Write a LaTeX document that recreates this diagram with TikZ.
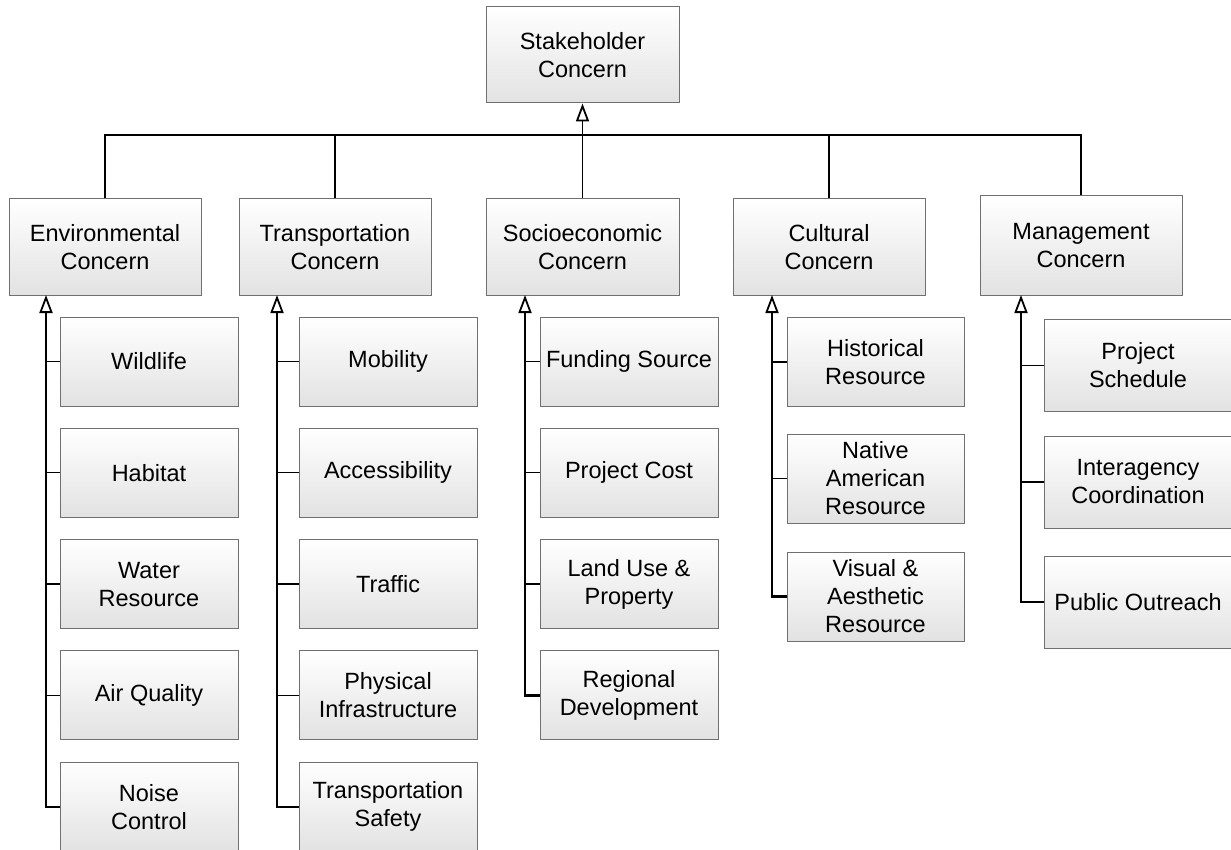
\documentclass[tikz,border=0pt]{standalone}
\usepackage{fontspec}
\setmainfont{Liberation Sans}
\usetikzlibrary{arrows.meta}
\definecolor{boxedge}{RGB}{112,112,112}
\definecolor{boxbottom}{RGB}{226,226,226}
\tikzset{
  concept/.style={draw=boxedge, line width=1pt, rectangle, inner sep=0pt,
    top color=white, bottom color=boxbottom, align=center,
    font=\fontsize{23.5}{28}\selectfont, text=black},
  topbox/.style={concept, minimum width=193pt, minimum height=96pt},
  midbox/.style={concept, minimum width=192pt, minimum height=96pt},
  leafbox/.style={concept, minimum width=178pt, minimum height=89pt},
  link/.style={draw=black, line width=1.3pt},
  spine/.style={draw=black, line width=2.2pt},
  gen/.style={-{Triangle[open, length=18pt, width=13pt, line width=1.8pt]}},
}
\begin{document}
\begin{tikzpicture}[x=1pt,y=-1pt]
\useasboundingbox (0,0) rectangle (1231,850);

% root
\node[topbox] (root) at (582.5,55) {Stakeholder\\Concern};

% concern categories
\node[midbox] (env) at (105,247) {Environmental\\Concern};
\node[midbox] (trn) at (335,247) {Transportation\\Concern};
\node[midbox, minimum width=193pt] (soc) at (582.5,247) {Socioeconomic\\Concern};
\node[midbox] (cul) at (829,247) {Cultural\\Concern};
\node[midbox, minimum width=202pt, minimum height=99pt] (mgt) at (1081,245.5) {Management\\Concern};

% bus joining the categories to the root
\coordinate (bus) at (582.5,135);
\draw[link] (env.north) |- (bus);
\draw[link] (trn.north) |- (bus);
\draw[link] (cul.north) |- (bus);
\draw[link] (mgt.north) |- (bus);
\draw[link] (soc.north) -- (bus);
\draw[link, gen] (bus) -- (root.south);

% environmental items
\node[leafbox] (e1) at (149,361.5) {Wildlife};
\node[leafbox] (e2) at (149,472.8) {Habitat};
\node[leafbox] (e3) at (149,584.1) {Water\\Resource};
\node[leafbox] (e4) at (149,695.4) {Air Quality};
\node[leafbox] (e5) at (149,806.7) {Noise\\Control};

% transportation items
\node[leafbox] (t1) at (388,361.5) {Mobility};
\node[leafbox] (t2) at (388,472.8) {Accessibility};
\node[leafbox] (t3) at (388,584.1) {Traffic};
\node[leafbox] (t4) at (388,695.4) {Physical\\Infrastructure};
\node[leafbox] (t5) at (388,806.7) {Transportation\\Safety};

% socioeconomic items
\node[leafbox] (s1) at (629,361.5) {Funding Source};
\node[leafbox] (s2) at (629,472.8) {Project Cost};
\node[leafbox] (s3) at (629,584.1) {Land Use \&\\Property};
\node[leafbox] (s4) at (629,695.4) {Regional\\Development};

% cultural items
\node[leafbox, minimum width=177pt] (c1) at (875.5,362) {Historical\\Resource};
\node[leafbox, minimum width=177pt] (c2) at (875.5,478.5) {Native\\American\\Resource};
\node[leafbox, minimum width=177pt] (c3) at (875.5,596.5) {Visual \&\\Aesthetic\\Resource};

% management items
\node[leafbox, minimum width=188pt, minimum height=92pt] (m1) at (1138,365.5) {Project\\Schedule};
\node[leafbox, minimum width=188pt, minimum height=92pt] (m2) at (1138,482) {Interagency\\Coordination};
\node[leafbox, minimum width=188pt, minimum height=92pt] (m3) at (1138,602) {Public Outreach};

% spine ends on each category's lower edge
\coordinate (envs) at (46,295);
\coordinate (trns) at (277,295);
\coordinate (socs) at (525,295);
\coordinate (culs) at (772,295);
\coordinate (mgts) at (1021,295);

% spines with generalisation arrows
\draw[spine, gen] (e5.west) -| (envs);
\draw[spine, gen] (t5.west) -| (trns);
\draw[spine, gen] (s4.west) -| (socs);
\draw[spine, gen] (c3.west) -| (culs);
\draw[spine, gen] (m3.west) -| (mgts);

% stubs from spines to items
\foreach \n in {e1,e2,e3,e4,e5} \draw[link] (\n.west) -- (\n.west -| envs);
\foreach \n in {t1,t2,t3,t4,t5} \draw[link] (\n.west) -- (\n.west -| trns);
\foreach \n in {s1,s2,s3,s4} \draw[link] (\n.west) -- (\n.west -| socs);
\foreach \n in {c1,c2,c3} \draw[link] (\n.west) -- (\n.west -| culs);
\foreach \n in {m1,m2,m3} \draw[link] (\n.west) -- (\n.west -| mgts);
\end{tikzpicture}
\end{document}
